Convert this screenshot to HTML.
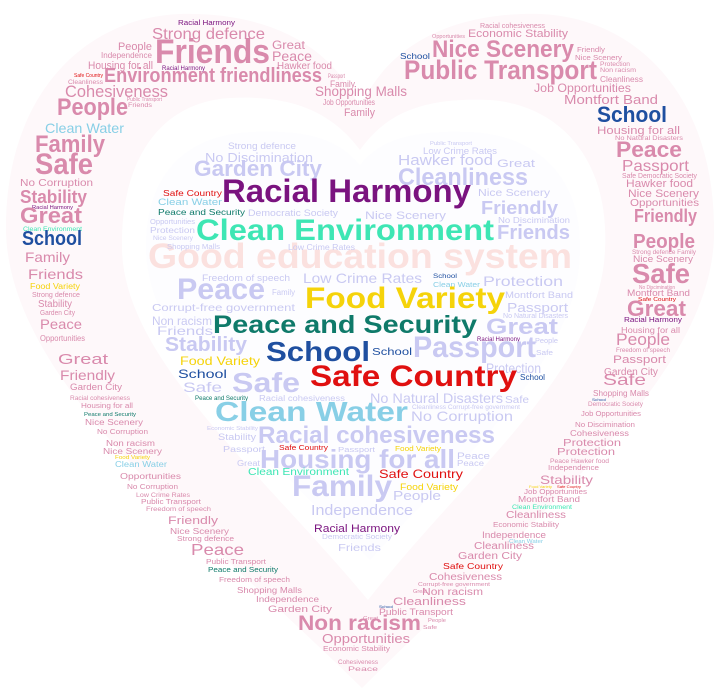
<!DOCTYPE html>
<html><head><meta charset="utf-8"><style>
html,body{margin:0;padding:0;background:#fff;}
svg{display:block;}
text{font-family:"Liberation Sans",sans-serif;}
</style></head>
<body>
<svg id="cloud" width="720" height="694" viewBox="0 0 720 694" xmlns="http://www.w3.org/2000/svg">
<path d="M360,108 C330,40 260,12 180,14 C80,18 5,100 6,230 C8,380 200,530 362,688 C520,530 712,380 714,235 C716,100 640,18 540,14 C460,12 390,40 360,108 Z" fill="#fef8fa"/>
<path d="M360,150 C330,110 290,95 230,98 C160,102 120,160 122,250 C125,360 260,470 368,600 C470,470 600,370 605,250 C610,160 560,105 490,100 C420,97 385,115 360,150 Z" fill="#ffffff"/>
<path d="M360,165 C335,135 300,130 250,132 C180,136 145,180 146,250 C148,350 270,460 370,560 C460,460 580,360 580,250 C582,180 540,135 470,132 C410,130 380,140 360,165 Z" fill="#fdfdff"/>
<g id="words"></g>
</svg>
<script>
// word cloud entries: [text, left x, right x, baseline y, font size, colour key]
const colorMap = {p:"#d98aac", l:"#c9c9f2", r:"#e01010", y:"#f5d30a", t:"#0f7a6a", b:"#1f4fa0", w:"#88cfe6", g:"#3ee6b4", u:"#7a137f", e:"#fbe1df"};
const wordData = [
["Good education system",148,572,268,35,"e"],
["Racial Harmony",178,235,25,7,"u"],
["Strong defence",152,265,39,16,"p"],
["People",118,152,50,11,"p"],
["Friends",155,270,63,34,"p"],
["Great",272,305,49,12,"p"],
["Peace",272,312,61,14,"p"],
["Hawker food",277,332,69,10,"p"],
["Independence",101,152,58,8,"p"],
["Housing for all",88,153,69,11,"p"],
["Racial Harmony",162,205,70,6,"u"],
["Environment friendliness",104,322,82,20,"p"],
["Passport",328,345,78,6,"p"],
["Family",330,355,87,9,"p"],
["Safe Country",74,103,77,5,"r"],
["Cleanliness",68,103,84,6,"p"],
["Cohesiveness",65,168,97,17,"p"],
["Shopping Malls",315,407,96,14,"p"],
["Job Opportunities",323,375,105,8,"p"],
["Family",344,375,116,11,"p"],
["People",57,128,115,24,"p"],
["Public Transport",127,162,101,5,"p"],
["Friends",128,152,107,6,"p"],
["Clean Water",45,124,133,14,"w"],
["Family",35,105,152,24,"p"],
["Safe",35,93,174,30,"p"],
["No Corruption",20,93,186,10,"p"],
["Stability",20,87,203,18,"p"],
["Racial Harmony",32,73,209,5,"u"],
["Great",20,82,223,22,"p"],
["Clean Environment",23,82,231,6,"g"],
["School",22,82,245,20,"b"],
["Family",25,70,262,14,"p"],
["Friends",28,83,279,14,"p"],
["Food Variety",30,80,289,8,"y"],
["Strong defence",32,80,297,7,"p"],
["Stability",38,72,307,10,"p"],
["Garden City",40,75,315,7,"p"],
["Peace",40,82,329,14,"p"],
["Opportunities",40,85,341,8,"p"],
["Great",58,108,364,15,"p"],
["Friendly",60,115,380,14,"p"],
["Garden City",70,122,390,9,"p"],
["Racial cohesiveness",70,130,400,6,"p"],
["Housing for all",81,133,408,7,"p"],
["Peace and Security",84,136,416,5,"t"],
["Nice Scenery",85,143,425,8,"p"],
["No Corruption",97,148,434,7,"p"],
["Non racism",106,155,446,8,"p"],
["Nice Scenery",103,162,454,8,"p"],
["Food Variety",115,150,459,5,"y"],
["Clean Water",115,167,467,8,"w"],
["Opportunities",120,181,479,8,"p"],
["No Corruption",127,178,489,7,"p"],
["Low Crime Rates",136,190,497,6,"p"],
["Public Transport",141,201,504,7,"p"],
["Freedom of speech",146,211,511,6,"p"],
["Friendly",168,218,524,11,"p"],
["Nice Scenery",170,229,534,8,"p"],
["Strong defence",177,234,541,7,"p"],
["Peace",191,244,555,16,"p"],
["Public Transport",206,266,564,7,"p"],
["Peace and Security",208,278,572,7,"t"],
["Freedom of speech",219,290,582,7,"p"],
["Shopping Malls",237,302,593,8,"p"],
["Independence",256,319,602,8,"p"],
["Garden City",268,332,612,9,"p"],
["Non racism",298,421,630,21,"p"],
["Opportunities",322,410,643,13,"p"],
["Economic Stability",323,390,651,7,"p"],
["Cohesiveness",338,378,664,6,"p"],
["Peace",348,378,671,6,"p"],
["Safe",603,646,385,16,"p"],
["Shopping Malls",593,649,396,8,"p"],
["School",592,606,401,4,"b"],
["Democratic Society",588,643,406,6,"p"],
["Job Opportunities",581,641,416,7,"p"],
["No Discimination",575,635,427,7,"p"],
["Cohesiveness",570,629,436,8,"p"],
["Protection",563,621,446,10,"p"],
["Protection",557,615,455,10,"p"],
["Peace Hawker food",550,609,463,6,"p"],
["Independence",548,599,470,7,"p"],
["Stability",540,593,484,12,"p"],
["Food Variety",529,552,488,4,"y"],
["Safe Country",557,581,488,4,"r"],
["Job Opportunities",524,587,494,7,"p"],
["Montfort Band",518,580,502,8,"p"],
["Clean Environment",512,572,509,6,"g"],
["Cleanliness",506,566,518,10,"p"],
["Economic Stability",493,559,527,7,"p"],
["Independence",482,546,538,9,"p"],
["Clean Water",509,543,543,5,"w"],
["Cleanliness",474,534,549,10,"p"],
["Garden City",458,522,559,10,"p"],
["Safe Country",443,503,569,8,"r"],
["Cohesiveness",429,502,580,10,"p"],
["Corrupt-free government",418,490,586,5,"p"],
["Great",413,427,593,5,"p"],
["Non racism",422,483,595,10,"p"],
["Cleanliness",393,466,605,11,"p"],
["School",379,393,608,4,"b"],
["Public Transport",379,453,615,9,"p"],
["Great",363,378,620,5,"p"],
["People",428,446,622,5,"p"],
["Safe",423,437,629,5,"p"],
["Racial cohesiveness",480,545,28,7,"p"],
["Economic Stability",468,568,37,11,"p"],
["Opportunities",432,465,38,5,"p"],
["Nice Scenery",432,574,57,24,"p"],
["School",400,430,59,8,"b"],
["Friendly",577,605,52,7,"p"],
["Nice Scenery",575,622,60,7,"p"],
["Public Transport",404,597,79,27,"p"],
["Protection",600,630,66,6,"p"],
["Non racism",600,636,72,6,"p"],
["Cleanliness",600,643,82,8,"p"],
["Job Opportunities",534,631,92,12,"p"],
["Montfort Band",564,658,104,13,"p"],
["School",597,667,122,22,"b"],
["Housing for all",597,680,134,11,"p"],
["No Natural Disasters",615,683,140,6,"p"],
["Peace",616,682,157,22,"p"],
["Passport",622,689,171,16,"p"],
["Safe Democratic Society",622,697,178,7,"p"],
["Hawker food",626,693,187,11,"p"],
["Nice Scenery",628,699,197,11,"p"],
["Opportunities",630,699,206,10,"p"],
["Friendly",634,697,222,18,"p"],
["People",633,695,248,20,"p"],
["Strong defence Family",632,696,254,6,"p"],
["Nice Scenery",633,693,262,9,"p"],
["Safe",632,690,283,28,"p"],
["No Discimination",639,675,289,5,"p"],
["Montfort Band",627,690,296,9,"p"],
["Safe Country",638,676,301,5,"r"],
["Great",627,686,316,22,"p"],
["Racial Harmony",624,682,322,7,"u"],
["Housing for all",621,680,333,8,"p"],
["People",616,670,345,17,"p"],
["Freedom of speech",616,670,352,6,"p"],
["Passport",613,666,363,11,"p"],
["Garden City",604,658,375,10,"p"],
["Public Transport",430,472,145,5,"l"],
["Strong defence",228,296,149,9,"l"],
["Low Crime Rates",423,497,154,9,"l"],
["No Discimination",205,313,162,13,"l"],
["Hawker food",398,493,165,15,"l"],
["Great",497,535,167,11,"l"],
["Garden City",194,322,176,22,"l"],
["Cleanliness",398,528,185,24,"l"],
["Nice Scenery",478,550,196,10,"l"],
["Safe Country",163,222,196,8,"r"],
["Racial Harmony",222,471,202,32,"u"],
["Clean Water",158,222,205,9,"w"],
["Friendly",481,558,214,18,"l"],
["Peace and Security",158,245,215,8,"t"],
["Democratic Society",248,338,216,9,"l"],
["Nice Scenery",365,446,219,11,"l"],
["No Discimination",498,570,223,8,"l"],
["Opportunities",150,195,224,7,"l"],
["Protection",150,195,233,8,"l"],
["Nice Scenery",153,193,240,6,"l"],
["Clean Environment",196,494,240,30,"g"],
["Friends",497,570,239,20,"l"],
["Shopping Malls",167,220,249,7,"l"],
["Low Crime Rates",288,355,250,8,"l"],
["Freedom of speech",202,290,281,9,"l"],
["Low Crime Rates",303,422,283,14,"l"],
["School",433,457,278,6,"b"],
["Clean Water",433,480,287,7,"w"],
["Protection",483,563,286,14,"l"],
["Peace",177,265,299,30,"l"],
["Family",272,295,295,8,"l"],
["Montfort Band",505,573,298,9,"l"],
["Food Variety",305,505,308,30,"y"],
["Passport",507,568,312,13,"l"],
["Corrupt-free government",152,295,311,10,"l"],
["No Natural Disasters",503,568,318,7,"l"],
["Non racism",152,212,325,12,"l"],
["Peace and Security",213,477,333,25,"t"],
["Great",486,558,334,22,"l"],
["Friends",157,213,335,12,"l"],
["Racial Harmony",477,520,341,6,"u"],
["People",535,558,343,7,"l"],
["Stability",165,247,351,20,"l"],
["School",372,412,355,10,"b"],
["Safe",536,553,355,7,"l"],
["School",266,370,361,28,"b"],
["Passport",413,536,357,30,"l"],
["Food Variety",180,260,365,12,"y"],
["Protection",486,541,373,14,"l"],
["School",178,227,378,12,"b"],
["School",520,545,380,8,"b"],
["Safe",183,222,392,14,"l"],
["Safe",232,300,392,28,"l"],
["Safe Country",310,517,386,30,"r"],
["Peace and Security",195,248,400,6,"t"],
["Racial cohesiveness",259,345,401,8,"l"],
["No Natural Disasters",370,503,403,14,"l"],
["Safe",505,529,403,10,"l"],
["Cleanliness Corrupt-free government",412,520,409,6,"l"],
["Clean Water",215,408,421,28,"w"],
["No Corruption",411,513,421,14,"l"],
["Economic Stability",207,258,430,5,"l"],
["Stability",218,256,440,9,"l"],
["Racial cohesiveness",258,495,443,24,"l"],
["Safe Country",279,328,450,7,"r"],
["Passport",223,265,452,8,"l"],
["Passport",338,375,452,7,"l"],
["Food Variety",395,441,451,7,"y"],
["Peace",457,490,459,9,"l"],
["Peace",457,484,466,8,"l"],
["Great",237,260,466,8,"l"],
["Housing for all",260,455,468,26,"l"],
["Clean Environment",248,349,475,10,"g"],
["Safe Country",379,463,478,12,"r"],
["Food Variety",400,458,490,9,"y"],
["Family",292,392,496,30,"l"],
["People",393,441,500,13,"l"],
["Independence",311,413,515,15,"l"],
["Racial Harmony",314,400,532,11,"u"],
["Democratic Society",322,392,539,7,"l"],
["Friends",338,381,551,10,"l"]
];

const g = document.getElementById('words');
const NS = "http://www.w3.org/2000/svg";
wordData.forEach(function(w){
  const t = document.createElementNS(NS, 'text');
  
  
  t.setAttribute('x', w[1]);
  t.setAttribute('y', w[3]);
  t.setAttribute('font-size', w[4]);
  t.setAttribute('fill', colorMap[w[5]]);
  t.setAttribute('textLength', w[2] - w[1]);
  t.setAttribute('lengthAdjust', 'spacingAndGlyphs');
  if (w[4] >= 18) t.setAttribute('font-weight', 'bold');
  t.textContent = w[0];
  g.appendChild(t);
});
</script>
</body></html>
